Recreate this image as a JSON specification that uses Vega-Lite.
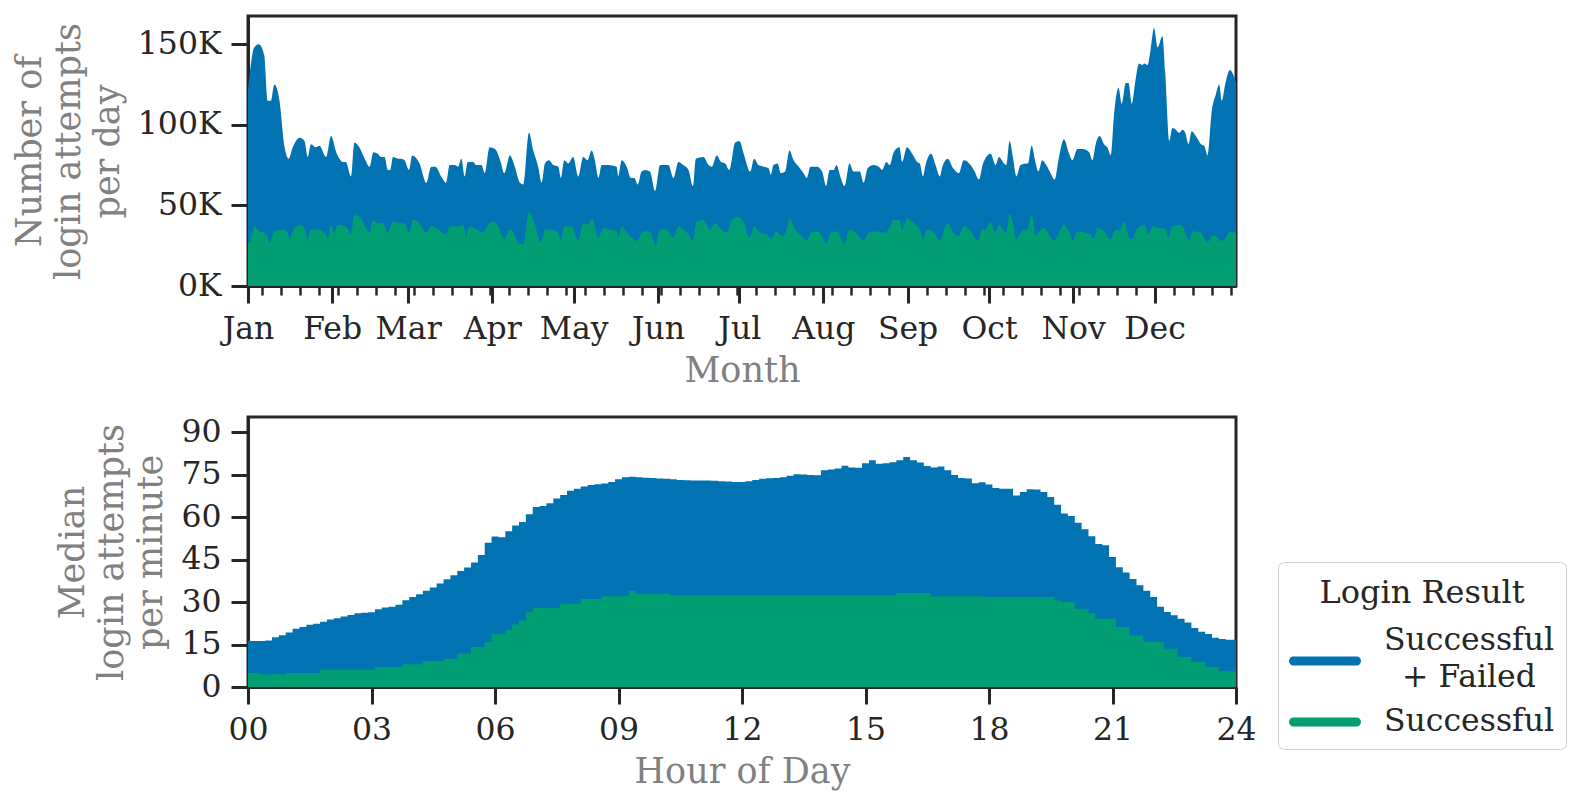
{
  "$schema": "https://vega.github.io/schema/vega-lite/v6.json",
  "background": "white",
  "padding": {"left": 10, "top": 14, "right": 10, "bottom": 10},
  "spacing": 24,
  "config": {
    "font": "DejaVu Serif",
    "view": {"stroke": "#262626", "strokeWidth": 3},
    "axis": {
      "labelFont": "DejaVu Serif", "labelFontSize": 31.5, "labelColor": "#262626",
      "titleFont": "DejaVu Serif", "titleFontSize": 35, "titleColor": "#808080", "titleFontWeight": "normal",
      "tickColor": "#262626", "tickWidth": 3, "tickSize": 17, "domainColor": "#262626", "domainWidth": 3,
      "labelPadding": 10, "grid": false, "titlePadding": 12, "titleLineHeight": 39
    },
    "legend": {
      "labelFont": "DejaVu Serif", "titleFont": "DejaVu Serif"
    }
  },
  "datasets": {
    "total": [
      {"d":0,"k":122},{"d":2.3,"k":148},{"d":4,"k":150},{"d":6,"k":143},{"d":7.2,"k":115},{"d":8.5,"k":115},{"d":9.7,"k":125},{"d":11.6,"k":115},{"d":13.4,"k":87},{"d":15,"k":79},{"d":16.5,"k":86},{"d":19,"k":92},{"d":20.8,"k":90},{"d":22,"k":80},{"d":23.2,"k":88},{"d":25,"k":86},{"d":26.3,"k":87},{"d":28.8,"k":80},{"d":30.6,"k":93},{"d":32.5,"k":83},{"d":35,"k":77},{"d":36,"k":77},{"d":38,"k":68},{"d":39.2,"k":89},{"d":41,"k":86},{"d":43,"k":79},{"d":44.8,"k":74},{"d":46.2,"k":83},{"d":47.8,"k":82},{"d":49,"k":80},{"d":50.3,"k":80},{"d":51.5,"k":72},{"d":52.4,"k":72},{"d":53.4,"k":80},{"d":55.2,"k":79},{"d":56.5,"k":79},{"d":57.7,"k":78},{"d":59.3,"k":72},{"d":60.5,"k":81},{"d":63.2,"k":76},{"d":65.7,"k":64},{"d":67.5,"k":74},{"d":69,"k":74},{"d":71.2,"k":68},{"d":73,"k":64},{"d":74.3,"k":75},{"d":76.1,"k":75},{"d":77.4,"k":74},{"d":78.6,"k":79},{"d":79.8,"k":68},{"d":81,"k":77},{"d":82.9,"k":77},{"d":84.1,"k":75},{"d":86,"k":75},{"d":87.2,"k":70},{"d":89,"k":86},{"d":91,"k":85},{"d":93.1,"k":77},{"d":94.4,"k":70},{"d":96.5,"k":81},{"d":98.3,"k":74},{"d":100.2,"k":64},{"d":101.4,"k":63},{"d":103.5,"k":95},{"d":105.1,"k":84},{"d":106.9,"k":74},{"d":108.2,"k":64},{"d":109.4,"k":76},{"d":110.9,"k":78},{"d":112.5,"k":75},{"d":114.3,"k":74},{"d":115.3,"k":67},{"d":116.5,"k":78},{"d":118,"k":76},{"d":119.8,"k":80},{"d":121.7,"k":68},{"d":123.5,"k":80},{"d":125.1,"k":78},{"d":126.6,"k":84},{"d":127.8,"k":78},{"d":129.1,"k":67},{"d":130.3,"k":75},{"d":132.7,"k":75},{"d":135.8,"k":74},{"d":136.4,"k":68},{"d":137.7,"k":78},{"d":139.5,"k":74},{"d":141.1,"k":67},{"d":142.3,"k":67},{"d":143.6,"k":63},{"d":145,"k":71},{"d":146.3,"k":72},{"d":148.1,"k":71},{"d":150,"k":59},{"d":151.8,"k":75},{"d":153.7,"k":75},{"d":154.9,"k":75},{"d":156.7,"k":67},{"d":158.6,"k":77},{"d":160.4,"k":75},{"d":162.3,"k":72},{"d":163.9,"k":62},{"d":165,"k":79},{"d":167.8,"k":80},{"d":169.7,"k":75},{"d":170.9,"k":74},{"d":172.7,"k":81},{"d":174.3,"k":77},{"d":175.8,"k":76},{"d":177.3,"k":72},{"d":179.5,"k":89},{"d":181,"k":90},{"d":182.8,"k":81},{"d":185,"k":71},{"d":186.5,"k":79},{"d":188.1,"k":75},{"d":190,"k":74},{"d":191.8,"k":73},{"d":192.6,"k":69},{"d":193.6,"k":75},{"d":195.1,"k":76},{"d":196.3,"k":70},{"d":197.9,"k":71},{"d":199.5,"k":84},{"d":201,"k":78},{"d":202.9,"k":74},{"d":204.7,"k":70},{"d":205.9,"k":67},{"d":207.2,"k":74},{"d":209.6,"k":74},{"d":211.5,"k":71},{"d":213,"k":62},{"d":214.3,"k":72},{"d":215.8,"k":72},{"d":216.8,"k":75},{"d":218.2,"k":68},{"d":219.8,"k":62},{"d":221.6,"k":76},{"d":223.1,"k":71},{"d":225.4,"k":71},{"d":226.8,"k":64},{"d":228.3,"k":73},{"d":230.5,"k":75},{"d":232.4,"k":74},{"d":233.6,"k":72},{"d":235.2,"k":77},{"d":236.4,"k":75},{"d":237.9,"k":83},{"d":240,"k":86},{"d":241,"k":77},{"d":242.8,"k":86},{"d":244.7,"k":82},{"d":246.5,"k":77},{"d":247.5,"k":76},{"d":248.7,"k":68},{"d":249.6,"k":75},{"d":251.7,"k":82},{"d":253.3,"k":75},{"d":254.9,"k":68},{"d":255.8,"k":74},{"d":257.8,"k":79},{"d":259.8,"k":73},{"d":261.9,"k":70},{"d":263.7,"k":78},{"d":266.2,"k":75},{"d":267.7,"k":71},{"d":269.3,"k":66},{"d":270.8,"k":76},{"d":273.6,"k":82},{"d":275.4,"k":75},{"d":276.7,"k":80},{"d":278.5,"k":76},{"d":279.4,"k":75},{"d":280.6,"k":90},{"d":281.8,"k":80},{"d":283.1,"k":68},{"d":284.6,"k":75},{"d":286.5,"k":76},{"d":287.4,"k":76},{"d":288.7,"k":87},{"d":290.2,"k":76},{"d":291.2,"k":71},{"d":292.6,"k":78},{"d":294.1,"k":75},{"d":295.7,"k":70},{"d":297.2,"k":66},{"d":298.8,"k":80},{"d":300.6,"k":91},{"d":302.5,"k":82},{"d":303.7,"k":78},{"d":305.6,"k":85},{"d":307.4,"k":85},{"d":309.9,"k":83},{"d":311.1,"k":78},{"d":312.3,"k":88},{"d":313.8,"k":93},{"d":315.4,"k":88},{"d":316.6,"k":86},{"d":317.9,"k":81},{"d":319.1,"k":107},{"d":320.7,"k":123},{"d":321.9,"k":113},{"d":323.4,"k":126},{"d":324.4,"k":126},{"d":325.6,"k":113},{"d":327.1,"k":129},{"d":328.3,"k":138},{"d":329.5,"k":137},{"d":330.2,"k":138},{"d":331.4,"k":137},{"d":332.6,"k":147},{"d":333.8,"k":160},{"d":335.1,"k":148},{"d":336.9,"k":155},{"d":337.9,"k":133},{"d":339.4,"k":90},{"d":340.6,"k":98},{"d":341.8,"k":97},{"d":343.1,"k":95},{"d":344.3,"k":97},{"d":345.3,"k":95},{"d":346.5,"k":88},{"d":347.7,"k":96},{"d":349.2,"k":93},{"d":351.1,"k":88},{"d":352.3,"k":87},{"d":353.5,"k":81},{"d":355.1,"k":109},{"d":356.6,"k":119},{"d":357.8,"k":125},{"d":358.8,"k":115},{"d":360,"k":125},{"d":361.8,"k":134},{"d":363,"k":131},{"d":364,"k":126}
    ],
    "success": [
      {"d":0,"k":26},{"d":1,"k":28},{"d":2.3,"k":37},{"d":4.2,"k":34},{"d":6,"k":33},{"d":7.2,"k":31},{"d":8,"k":27},{"d":9.7,"k":34},{"d":12.8,"k":35},{"d":14.6,"k":33},{"d":15.3,"k":29},{"d":16.5,"k":34},{"d":19,"k":38},{"d":20.8,"k":36},{"d":22,"k":29},{"d":23.2,"k":35},{"d":25.7,"k":35},{"d":28.8,"k":32},{"d":29.4,"k":29},{"d":30.6,"k":38},{"d":31.8,"k":33},{"d":33,"k":38},{"d":36,"k":37},{"d":38,"k":32},{"d":39.2,"k":44},{"d":41,"k":43},{"d":43.5,"k":36},{"d":44.8,"k":33},{"d":46,"k":41},{"d":47.8,"k":39},{"d":49.7,"k":39},{"d":51.5,"k":33},{"d":53.4,"k":40},{"d":55.8,"k":39},{"d":57.7,"k":39},{"d":59.3,"k":33},{"d":60.8,"k":41},{"d":63.2,"k":39},{"d":65.7,"k":33},{"d":67.5,"k":37},{"d":69.4,"k":36},{"d":73,"k":32},{"d":74.3,"k":37},{"d":76.1,"k":37},{"d":78,"k":37},{"d":79.2,"k":38},{"d":80.4,"k":31},{"d":81.7,"k":37},{"d":84.1,"k":35},{"d":86.6,"k":33},{"d":88.4,"k":38},{"d":90.3,"k":40},{"d":92.2,"k":37},{"d":94.4,"k":29},{"d":95.9,"k":34},{"d":97,"k":35},{"d":98.6,"k":30},{"d":100.2,"k":26},{"d":101.4,"k":26},{"d":103.6,"k":46},{"d":105.4,"k":40},{"d":107.9,"k":27},{"d":109.4,"k":35},{"d":111.2,"k":35},{"d":113.7,"k":34},{"d":115.3,"k":29},{"d":116.5,"k":37},{"d":119.2,"k":37},{"d":121.7,"k":28},{"d":123.5,"k":39},{"d":125.3,"k":38},{"d":126.8,"k":42},{"d":129.1,"k":30},{"d":130.9,"k":36},{"d":133.4,"k":35},{"d":135.8,"k":34},{"d":136.4,"k":30},{"d":137.7,"k":37},{"d":140.1,"k":32},{"d":141.4,"k":30},{"d":143.2,"k":28},{"d":145.7,"k":34},{"d":147.5,"k":34},{"d":148.7,"k":32},{"d":150.2,"k":25},{"d":151.8,"k":35},{"d":154.3,"k":35},{"d":156.7,"k":30},{"d":158.6,"k":37},{"d":160.4,"k":35},{"d":162.3,"k":32},{"d":163.9,"k":28},{"d":165.3,"k":40},{"d":167.8,"k":41},{"d":170.3,"k":35},{"d":172.1,"k":39},{"d":174,"k":36},{"d":176.4,"k":33},{"d":178.3,"k":41},{"d":180.7,"k":43},{"d":182.8,"k":39},{"d":184.8,"k":30},{"d":186.5,"k":37},{"d":188.7,"k":33},{"d":191.2,"k":32},{"d":192.6,"k":29},{"d":194.6,"k":34},{"d":196.7,"k":31},{"d":197.9,"k":32},{"d":199.5,"k":42},{"d":201.6,"k":35},{"d":204.1,"k":31},{"d":205.7,"k":28},{"d":207.4,"k":33},{"d":209.6,"k":34},{"d":211.5,"k":31},{"d":213.1,"k":26},{"d":214.6,"k":33},{"d":217,"k":34},{"d":219.7,"k":26},{"d":221.6,"k":35},{"d":224.4,"k":32},{"d":226.8,"k":28},{"d":228.7,"k":33},{"d":231.1,"k":34},{"d":234.2,"k":33},{"d":236,"k":35},{"d":237.9,"k":41},{"d":240,"k":41},{"d":241,"k":34},{"d":242.8,"k":42},{"d":245.3,"k":39},{"d":247.5,"k":35},{"d":248.7,"k":29},{"d":250.2,"k":35},{"d":252.7,"k":33},{"d":254.9,"k":28},{"d":257.6,"k":39},{"d":260,"k":33},{"d":261.9,"k":31},{"d":263.7,"k":37},{"d":266.2,"k":34},{"d":268.9,"k":28},{"d":270.5,"k":35},{"d":271.7,"k":35},{"d":273.6,"k":40},{"d":275.2,"k":33},{"d":276.7,"k":38},{"d":278.5,"k":34},{"d":279.4,"k":33},{"d":280.6,"k":45},{"d":281.8,"k":39},{"d":283.1,"k":29},{"d":285,"k":34},{"d":287.1,"k":35},{"d":288.7,"k":44},{"d":290.2,"k":31},{"d":291.4,"k":34},{"d":293.3,"k":36},{"d":295.1,"k":32},{"d":297,"k":28},{"d":298.5,"k":32},{"d":300.6,"k":38},{"d":302.7,"k":33},{"d":303.9,"k":28},{"d":305.6,"k":34},{"d":308.6,"k":33},{"d":310.5,"k":32},{"d":311.7,"k":29},{"d":313,"k":36},{"d":315.4,"k":34},{"d":317.9,"k":29},{"d":319.5,"k":35},{"d":321,"k":34},{"d":322.8,"k":40},{"d":324.6,"k":30},{"d":325.8,"k":29},{"d":327.3,"k":35},{"d":330.2,"k":38},{"d":331.8,"k":32},{"d":333.2,"k":37},{"d":335.7,"k":36},{"d":338.2,"k":35},{"d":339.1,"k":30},{"d":340.6,"k":37},{"d":343.1,"k":38},{"d":344.3,"k":37},{"d":346.8,"k":28},{"d":348,"k":34},{"d":351.1,"k":33},{"d":353.5,"k":27},{"d":355.1,"k":31},{"d":356.6,"k":31},{"d":358.1,"k":28},{"d":359.7,"k":29},{"d":361.8,"k":34},{"d":363.4,"k":33},{"d":364,"k":33}
    ],
    "minute": [
      {"m":0,"t":16.2,"s":4.9},{"m":10,"t":16.2,"s":4.9},{"m":20,"t":16.2,"s":4.6},{"m":30,"t":16.4,"s":4.4},{"m":40,"t":17.6,"s":4.6},{"m":50,"t":18.3,"s":4.4},{"m":60,"t":19.2,"s":4.9},{"m":70,"t":20.6,"s":4.9},{"m":80,"t":21.2,"s":4.9},{"m":90,"t":22.0,"s":4.9},{"m":100,"t":22.3,"s":4.9},{"m":110,"t":23.0,"s":6.1},{"m":120,"t":23.8,"s":6.1},{"m":130,"t":24.3,"s":6.1},{"m":140,"t":24.9,"s":6.1},{"m":150,"t":25.4,"s":6.1},{"m":160,"t":26.0,"s":6.1},{"m":170,"t":26.2,"s":6.1},{"m":180,"t":26.4,"s":6.1},{"m":190,"t":27.4,"s":7.1},{"m":200,"t":28.1,"s":7.1},{"m":210,"t":28.3,"s":7.1},{"m":220,"t":29.0,"s":7.1},{"m":230,"t":30.6,"s":8.0},{"m":240,"t":31.8,"s":8.0},{"m":250,"t":32.7,"s":8.0},{"m":260,"t":34.0,"s":9.1},{"m":270,"t":35.1,"s":9.1},{"m":280,"t":36.5,"s":9.1},{"m":290,"t":38.0,"s":10.0},{"m":300,"t":39.4,"s":10.0},{"m":310,"t":40.9,"s":11.8},{"m":320,"t":42.2,"s":11.8},{"m":330,"t":43.9,"s":14.1},{"m":340,"t":46.6,"s":14.1},{"m":350,"t":50.9,"s":15.9},{"m":360,"t":53.1,"s":18.8},{"m":370,"t":52.9,"s":18.8},{"m":380,"t":55.0,"s":20.2},{"m":390,"t":57.0,"s":22.1},{"m":400,"t":58.2,"s":23.5},{"m":410,"t":61.0,"s":26.5},{"m":420,"t":63.5,"s":28.0},{"m":430,"t":63.9,"s":28.0},{"m":440,"t":64.9,"s":28.0},{"m":450,"t":66.5,"s":28.0},{"m":460,"t":67.8,"s":29.4},{"m":470,"t":69.3,"s":29.4},{"m":480,"t":70.0,"s":29.4},{"m":490,"t":70.8,"s":31.1},{"m":500,"t":71.3,"s":31.1},{"m":510,"t":71.6,"s":31.1},{"m":520,"t":71.8,"s":32.0},{"m":530,"t":72.4,"s":32.0},{"m":540,"t":73.3,"s":32.0},{"m":550,"t":74.0,"s":32.0},{"m":560,"t":74.2,"s":33.9},{"m":570,"t":74.0,"s":32.9},{"m":580,"t":73.9,"s":32.9},{"m":590,"t":73.8,"s":32.9},{"m":600,"t":73.6,"s":32.9},{"m":610,"t":73.5,"s":32.9},{"m":620,"t":73.3,"s":32.4},{"m":630,"t":73.1,"s":32.4},{"m":640,"t":73.0,"s":32.4},{"m":650,"t":72.9,"s":32.4},{"m":660,"t":72.9,"s":32.4},{"m":670,"t":72.9,"s":32.4},{"m":680,"t":72.8,"s":32.4},{"m":690,"t":72.6,"s":32.4},{"m":700,"t":72.5,"s":32.4},{"m":710,"t":72.4,"s":32.4},{"m":720,"t":72.4,"s":32.4},{"m":730,"t":72.6,"s":32.4},{"m":740,"t":73.1,"s":32.4},{"m":750,"t":73.5,"s":32.4},{"m":760,"t":73.7,"s":32.4},{"m":770,"t":73.8,"s":32.4},{"m":780,"t":74.0,"s":32.4},{"m":790,"t":74.6,"s":32.4},{"m":800,"t":75.1,"s":32.4},{"m":810,"t":75.0,"s":32.4},{"m":820,"t":74.8,"s":32.4},{"m":830,"t":74.7,"s":32.4},{"m":840,"t":76.5,"s":32.4},{"m":850,"t":76.8,"s":32.4},{"m":860,"t":77.1,"s":32.4},{"m":870,"t":78.1,"s":32.4},{"m":880,"t":77.5,"s":32.4},{"m":890,"t":77.4,"s":32.4},{"m":900,"t":79.0,"s":32.4},{"m":910,"t":80.0,"s":32.4},{"m":920,"t":78.8,"s":32.4},{"m":930,"t":79.0,"s":32.4},{"m":940,"t":79.3,"s":32.4},{"m":950,"t":80.0,"s":33.2},{"m":960,"t":81.2,"s":33.2},{"m":970,"t":80.0,"s":33.2},{"m":980,"t":79.2,"s":33.2},{"m":990,"t":78.0,"s":33.2},{"m":1000,"t":77.5,"s":32.0},{"m":1010,"t":77.8,"s":32.0},{"m":1020,"t":76.5,"s":32.0},{"m":1030,"t":74.8,"s":32.0},{"m":1040,"t":73.8,"s":32.0},{"m":1050,"t":73.6,"s":32.0},{"m":1060,"t":71.9,"s":32.0},{"m":1070,"t":72.3,"s":32.0},{"m":1080,"t":71.5,"s":31.8},{"m":1090,"t":70.2,"s":31.8},{"m":1100,"t":70.0,"s":31.8},{"m":1110,"t":70.0,"s":31.8},{"m":1120,"t":67.6,"s":31.8},{"m":1130,"t":68.8,"s":31.8},{"m":1140,"t":69.8,"s":31.8},{"m":1150,"t":69.7,"s":31.8},{"m":1160,"t":68.8,"s":31.8},{"m":1170,"t":67.1,"s":31.8},{"m":1180,"t":64.3,"s":30.6},{"m":1190,"t":61.2,"s":30.0},{"m":1200,"t":60.4,"s":30.0},{"m":1210,"t":58.0,"s":27.6},{"m":1220,"t":55.7,"s":27.6},{"m":1230,"t":53.2,"s":25.9},{"m":1240,"t":50.5,"s":24.1},{"m":1250,"t":50.0,"s":24.1},{"m":1260,"t":45.9,"s":24.1},{"m":1270,"t":42.3,"s":21.2},{"m":1280,"t":40.4,"s":21.2},{"m":1290,"t":38.1,"s":18.2},{"m":1300,"t":35.9,"s":18.2},{"m":1310,"t":34.0,"s":15.9},{"m":1320,"t":31.8,"s":15.9},{"m":1330,"t":28.3,"s":15.9},{"m":1340,"t":26.5,"s":13.5},{"m":1350,"t":25.3,"s":13.5},{"m":1360,"t":24.1,"s":10.6},{"m":1370,"t":22.8,"s":10.6},{"m":1380,"t":20.8,"s":8.8},{"m":1390,"t":19.5,"s":8.8},{"m":1400,"t":18.7,"s":7.1},{"m":1410,"t":17.4,"s":7.1},{"m":1420,"t":16.9,"s":5.6},{"m":1430,"t":16.7,"s":5.6},{"m":1440,"t":16.7,"s":5.5}
    ]
  },
  "vconcat": [
    {
      "width": 988,
      "height": 270,
      "layer": [
        {
          "data": {"name": "total"},
          "mark": {"type": "area", "interpolate": "monotone", "opacity": 1},
          "encoding": {
            "x": {"field": "d", "type": "quantitative", "scale": {"domain": [0, 364], "nice": false, "zero": false},
              "axis": {"title": "Month", "orient": "bottom", "titlePadding": 9, "values": [0,31,59,90,120,151,181,212,243,273,304,334],
                "labelExpr": "timeFormat(datetime(2019, 0, 1 + datum.value), '%b')", "labelFlush": false, "labelOverlap": false, "tickSize": 17}},
            "y": {"field": "k", "type": "quantitative", "stack": null, "scale": {"domain": [0, 167.5], "nice": false},
              "axis": {"title": ["Number of", "login attempts", "per day"], "values": [0, 50, 100, 150], "labelExpr": "datum.value + 'K'"}},
            "color": {"datum": "Successful + Failed", "type": "nominal",
              "scale": {"domain": ["Successful + Failed", "Successful"], "range": ["#0173b2", "#029e73"]},
              "legend": {
                "title": "Login Result", "orient": "none", "legendX": 1030, "legendY": 546,
                "symbolType": "M-0.775,-0.225 H2.375 A0.225,0.225 0 0 1 2.375,0.225 H-0.775 A0.225,0.225 0 0 1 -0.775,-0.225 Z",
                "symbolSize": 1600, "symbolStrokeWidth": 0, "symbolOpacity": 1,
                "labelFontSize": 31.5, "titleFontSize": 32, "titleFontWeight": "normal", "titleLimit": 500,
                "titleColor": "#262626", "labelColor": "#262626",
                "fillColor": "white", "strokeColor": "#cccccc", "cornerRadius": 6, "padding": 11,
                "labelAlign": "center", "labelOffset": 140, "labelBaseline": "middle", "labelLimit": 0,
                "titleAnchor": "middle", "titlePadding": 16, "rowPadding": 8,
                "labelExpr": "datum.label == 'Successful + Failed' ? ['Successful', '+ Failed'] : datum.label",
                "encode": {
                  "title": {"update": {"dy": {"value": 5}}},
                  "symbols": {"update": {"shape": {"signal": "datum.value === 'Successful + Failed' ? 'M-0.775,0.775 H2.375 A0.225,0.225 0 0 1 2.375,1.225 H-0.775 A0.225,0.225 0 0 1 -0.775,0.775 Z' : 'M-0.775,-0.225 H2.375 A0.225,0.225 0 0 1 2.375,0.225 H-0.775 A0.225,0.225 0 0 1 -0.775,-0.225 Z'"}}},
                  "labels": {"update": {"lineHeight": {"value": 37}}}
                }
              }}
          }
        },
        {
          "data": {"name": "success"},
          "mark": {"type": "area", "interpolate": "monotone", "opacity": 1},
          "encoding": {
            "x": {"field": "d", "type": "quantitative",
              "axis": {"title": null, "orient": "bottom", "labels": false, "domain": false, "tickSize": 9, "tickWidth": 2.5,
                "values": [5,12,19,26,33,40,47,54,61,68,75,82,89,96,103,110,117,124,131,138,145,152,159,166,173,180,187,194,201,208,215,222,229,236,243,250,257,264,271,278,285,292,299,306,313,320,327,334,341,348,355,362]}},
            "y": {"field": "k", "type": "quantitative", "stack": null},
            "color": {"datum": "Successful", "type": "nominal"}
          }
        }
      ],
      "resolve": {"axis": {"x": "independent"}}
    },
    {
      "width": 988,
      "height": 270,
      "data": {"name": "minute"},
      "layer": [
        {
          "mark": {"type": "area", "interpolate": "step", "opacity": 1},
          "encoding": {
            "x": {"field": "m", "type": "quantitative", "scale": {"domain": [0, 1440], "nice": false},
              "axis": {"title": "Hour of Day", "titlePadding": 9, "values": [0,180,360,540,720,900,1080,1260,1440],
                "labelExpr": "pad(toString(datum.value / 60), 2, '0', 'left')", "labelFlush": false}},
            "y": {"field": "t", "type": "quantitative", "stack": null, "scale": {"domain": [0, 95.3], "nice": false},
              "axis": {"title": ["Median", "login attempts", "per minute"], "values": [0,15,30,45,60,75,90]}},
            "color": {"datum": "Successful + Failed", "type": "nominal"}
          }
        },
        {
          "mark": {"type": "area", "interpolate": "step", "opacity": 1},
          "encoding": {
            "x": {"field": "m", "type": "quantitative"},
            "y": {"field": "s", "type": "quantitative", "stack": null},
            "color": {"datum": "Successful", "type": "nominal"}
          }
        }
      ]
    }
  ]
}
